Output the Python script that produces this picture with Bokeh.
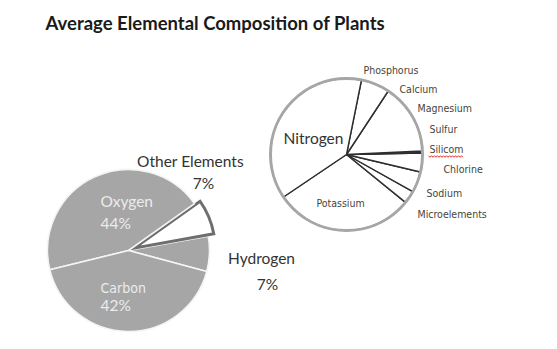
import numpy as np
from bokeh.plotting import figure
from bokeh.models import Range1d
from bokeh.embed import file_html
from bokeh.resources import INLINE
from bokeh.core.properties import value

# ---------------- data ----------------
title_text = "Average Elemental Composition of Plants"
main_labels = ["Hydrogen", "Other Elements", "Oxygen", "Carbon"]
main_values = [7, 7, 44, 42]
sub_labels = ["Potassium", "Microelements", "Sodium", "Chlorine", "Silicom",
              "Sulfur", "Magnesium", "Calcium", "Phosphorus", "Nitrogen"]
sub_values = [29.7, 2.75, 4.4, 4.0, 0.15, 0.15, 0.15, 15.0, 6.1, 37.6]

# ---------------- layout ----------------
W, H = 541, 341
OX, OY = 0, 0

def px(x, y):
    """screen pixel (reference picture) -> data coords"""
    return x - OX, H - (y - OY)

p = figure(width=W, height=H, x_range=Range1d(0, W), y_range=Range1d(0, H),
           x_axis_type=None, y_axis_type=None, toolbar_location=None,
           output_backend="svg", min_border=0, outline_line_color=None)
p.background_fill_color = "white"
p.border_fill_color = "white"

CAL = value("Lato")
NARROW = value("DejaVu Sans Condensed")

# ---- title ----
tx, ty = px(45, 22)
p.text(x=[tx], y=[ty], text=[title_text], text_font=CAL, text_font_style="bold",
       text_font_size="18.5px", text_color="#1a1a1a", text_baseline="middle",
       text_align="left")

# ---- main pie ----
mcx, mcy = px(128, 250)
mr = 81
start0 = np.deg2rad(-15)
tot = sum(main_values)
ang = np.cumsum([0] + [v / tot * 2 * np.pi for v in main_values]) + start0
explode_idx = main_labels.index("Other Elements")
for i, lab in enumerate(main_labels):
    s, e = ang[i], ang[i + 1]
    if i == explode_idx:
        mid = (s + e) / 2
        off = 6
        p.wedge(x=[mcx + off * np.cos(mid)], y=[mcy + off * np.sin(mid)], radius=mr,
                start_angle=[s], end_angle=[e], fill_color="white",
                line_color="#6e6e6e", line_width=3, line_join="miter")
    else:
        p.wedge(x=[mcx], y=[mcy], radius=mr, start_angle=[s], end_angle=[e],
                fill_color="#a6a6a6", line_color="#f4f4f4", line_width=1.6)

pct = {lab: f"{v / tot * 100:.0f}%" for lab, v in zip(main_labels, main_values)}

# labels inside the pie (light)
ox, oy = px(100, 200)
p.text(x=[ox], y=[oy], text=["Oxygen"], text_font=CAL, text_font_size="15.5px",
       text_color="#ececec", text_baseline="middle", text_align="left")
ox, oy = px(100, 222)
p.text(x=[ox], y=[oy], text=[pct["Oxygen"]], text_font=CAL, text_font_size="15.5px",
       text_color="#ececec", text_baseline="middle", text_align="left")
cx_, cy_ = px(100, 287)
p.text(x=[cx_], y=[cy_], text=["Carbon"], text_font=NARROW, text_font_size="14px",
       text_color="#ececec", text_baseline="middle", text_align="left")
cx_, cy_ = px(100, 304)
p.text(x=[cx_], y=[cy_], text=[pct["Carbon"]], text_font=CAL, text_font_size="15.5px",
       text_color="#ececec", text_baseline="middle", text_align="left")

# labels outside (dark)
for lab, (lx, ly), (vx, vy) in [("Other Elements", (190, 160), (203, 182)),
                                 ("Hydrogen", (261, 257), (267, 283))]:
    a, b = px(lx, ly)
    p.text(x=[a], y=[b], text=[lab], text_font=CAL, text_font_size="15.5px",
           text_color="#333333", text_baseline="middle", text_align="center")
    a, b = px(vx, vy)
    p.text(x=[a], y=[b], text=[pct[lab]], text_font=CAL, text_font_size="15.5px",
           text_color="#333333", text_baseline="middle", text_align="center")

# ---- secondary pie ----
scx, scy = px(346, 154)
sr = 76
sstart = np.deg2rad(214)
stot = sum(sub_values)
sang = np.cumsum([0] + [v / stot * 2 * np.pi for v in sub_values]) + sstart
p.wedge(x=[scx] * len(sub_values), y=[scy] * len(sub_values), radius=sr,
        start_angle=list(sang[:-1]), end_angle=list(sang[1:]),
        fill_color="white", line_color="#2e2e2e", line_width=1.4)
p.circle(x=[scx], y=[scy], radius=sr, fill_color=None, line_color="#a6a6a6",
         line_width=3)

# sub labels
sub_label_pos = {
    "Phosphorus": (363, 69, "left"),
    "Calcium": (399, 88, "left"),
    "Magnesium": (417, 107, "left"),
    "Sulfur": (429, 128, "left"),
    "Silicom": (429, 148, "left"),
    "Chlorine": (443, 168, "left"),
    "Sodium": (426, 192, "left"),
    "Microelements": (417, 213, "left"),
    "Potassium": (340, 202, "center"),
}
for lab in sub_labels:
    if lab == "Nitrogen":
        a, b = px(313, 137)
        p.text(x=[a], y=[b], text=[lab], text_font=CAL, text_font_size="15.5px",
               text_color="#333333", text_baseline="middle", text_align="center")
        continue
    lx, ly, al = sub_label_pos[lab]
    a, b = px(lx, ly)
    p.text(x=[a], y=[b], text=[lab], text_font=NARROW, text_font_size="10.5px",
           text_color="#45453a", text_baseline="middle", text_align=al)

# spell-check squiggle under "Silicom"
sx0, sy0 = px(428, 156)
zx = np.arange(0, 35, 1.5)
zy = np.where((np.arange(len(zx)) % 2) == 0, 0.8, -0.8)
p.line(x=sx0 + zx, y=sy0 + zy, line_color="#e03030", line_width=1)

open("out.html", "w").write(file_html(p, INLINE))
